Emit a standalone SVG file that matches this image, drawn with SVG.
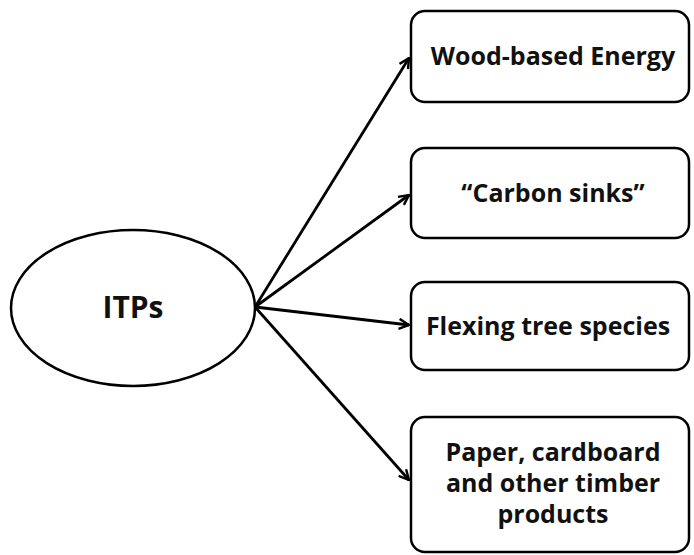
<svg xmlns="http://www.w3.org/2000/svg" width="694" height="555" viewBox="0 0 694 555">
<style>
.box{fill:#fff;stroke:#000;stroke-width:2.5}
.t{font-family:"Open Sans","Liberation Sans",sans-serif;font-weight:bold;font-size:25px;fill:#111;text-anchor:middle}
.c{stroke:#000;stroke-width:2.8;fill:none;marker-end:url(#ah)}
</style>
<defs>
<marker id="ah" viewBox="0 0 12 12" refX="11" refY="6" markerWidth="12" markerHeight="12" markerUnits="userSpaceOnUse" orient="auto">
<path d="M1,1 L11,6 L1,11" fill="none" stroke="#000" stroke-width="2.4"/>
</marker>
</defs>
<g id="itps">
<ellipse cx="133" cy="308" rx="122" ry="78" class="box"/>
<text x="133" y="318" class="t" style="font-size:30px">ITPs</text>
</g>
<g id="wood">
<rect x="411" y="11" width="278" height="91" rx="14" class="box"/>
<text x="553" y="65" class="t">Wood-based Energy</text>
</g>
<g id="carbon">
<rect x="411" y="148" width="278" height="90" rx="14" class="box"/>
<text x="553" y="202" class="t">“Carbon sinks”</text>
</g>
<g id="flexing">
<rect x="411" y="282" width="278" height="88" rx="14" class="box"/>
<text x="548" y="335" class="t">Flexing tree species</text>
</g>
<g id="paper">
<rect x="411" y="417" width="278" height="135" rx="14" class="box"/>
<text class="t"><tspan x="553" y="461">Paper, cardboard</tspan><tspan x="553" y="492">and other timber</tspan><tspan x="553" y="523">products</tspan></text>
</g>
<g id="connectors">
<line x1="255" y1="307" x2="409" y2="58" class="c"/>
<line x1="255" y1="307" x2="409" y2="195" class="c"/>
<line x1="255" y1="307" x2="409" y2="325" class="c"/>
<line x1="255" y1="307" x2="409" y2="480" class="c"/>
</g>
</svg>
